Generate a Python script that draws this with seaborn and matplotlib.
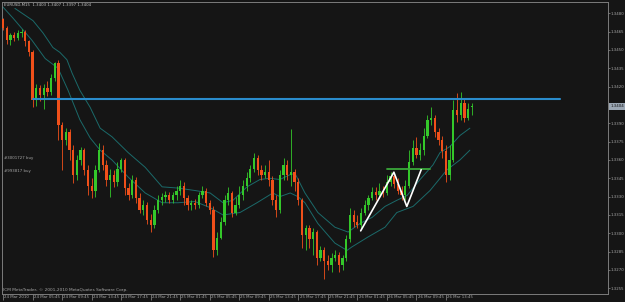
import numpy as np
import matplotlib
matplotlib.use("Agg")
import matplotlib.pyplot as plt
import matplotlib.transforms as mtransforms
import seaborn as sns

# ---------------- data (prices in 1e-4 units, EURUSD 30-min bars) ----------------
opens = [13475, 13468, 13458, 13462, 13460, 13464, 13465, 13457, 13448, 13409,
         13419, 13413, 13419, 13416, 13427, 13439, 13389, 13376, 13383, 13368,
         13348, 13360, 13368, 13352, 13339, 13335, 13352, 13368, 13356, 13344,
         13348, 13342, 13353, 13360, 13337, 13331, 13344, 13329, 13319, 13323,
         13311, 13307, 13319, 13327, 13330, 13331, 13327, 13331, 13335, 13339,
         13329, 13323, 13325, 13323, 13331, 13335, 13325, 13319, 13286, 13296,
         13309, 13327, 13333, 13317, 13323, 13331, 13339, 13345, 13353, 13362,
         13352, 13348, 13350, 13344, 13327, 13319, 13348, 13356, 13348, 13350,
         13342, 13327, 13299, 13304, 13295, 13301, 13280, 13286, 13277, 13274,
         13280, 13282, 13274, 13280, 13295, 13315, 13309, 13307, 13317, 13323,
         13329, 13334, 13331, 13335, 13333, 13342, 13347, 13340, 13335, 13331,
         13339, 13358, 13370, 13364, 13368, 13380, 13393, 13394, 13383, 13376,
         13367, 13348, 13360, 13401, 13397, 13407, 13394, 13403]
closes = [13468, 13458, 13462, 13460, 13464, 13465, 13457, 13448, 13409, 13419,
          13413, 13419, 13416, 13427, 13439, 13389, 13376, 13383, 13368, 13348,
          13360, 13368, 13352, 13339, 13335, 13352, 13368, 13356, 13344, 13348,
          13342, 13353, 13360, 13337, 13331, 13344, 13329, 13319, 13323, 13311,
          13307, 13319, 13327, 13330, 13331, 13327, 13331, 13335, 13339, 13329,
          13323, 13325, 13323, 13331, 13335, 13325, 13319, 13286, 13296, 13309,
          13327, 13333, 13317, 13323, 13331, 13339, 13345, 13353, 13362, 13352,
          13348, 13350, 13344, 13327, 13319, 13348, 13356, 13348, 13350, 13342,
          13327, 13299, 13304, 13295, 13301, 13280, 13286, 13277, 13274, 13280,
          13282, 13274, 13280, 13295, 13315, 13309, 13307, 13317, 13323, 13329,
          13334, 13331, 13335, 13333, 13342, 13347, 13340, 13335, 13331, 13339,
          13358, 13370, 13364, 13368, 13380, 13393, 13394, 13383, 13376, 13367,
          13348, 13360, 13401, 13397, 13407, 13394, 13402, 13404]
highs = [13476, 13470, 13464, 13465, 13466, 13467, 13466, 13458, 13450, 13422,
         13421, 13422, 13425, 13430, 13440, 13442, 13391, 13386, 13385, 13372,
         13364, 13371, 13370, 13356, 13345, 13356, 13374, 13372, 13360, 13353,
         13352, 13358, 13362, 13362, 13341, 13348, 13346, 13333, 13327, 13326,
         13316, 13323, 13331, 13333, 13335, 13334, 13334, 13339, 13344, 13342,
         13331, 13327, 13328, 13334, 13339, 13337, 13327, 13322, 13301, 13313,
         13331, 13338, 13335, 13330, 13339, 13344, 13350, 13356, 13366, 13364,
         13356, 13356, 13360, 13347, 13331, 13352, 13362, 13360, 13385, 13353,
         13345, 13329, 13307, 13307, 13304, 13303, 13290, 13289, 13282, 13284,
         13286, 13285, 13282, 13299, 13321, 13319, 13315, 13321, 13327, 13331,
         13338, 13338, 13341, 13339, 13348, 13350, 13349, 13345, 13339, 13344,
         13368, 13376, 13379, 13374, 13386, 13397, 13403, 13397, 13386, 13380,
         13372, 13372, 13409, 13415, 13416, 13411, 13407, 13407]
lows = [13466, 13455, 13454, 13457, 13458, 13461, 13453, 13445, 13403, 13404,
        13408, 13402, 13412, 13413, 13425, 13376, 13352, 13372, 13360, 13341,
        13344, 13356, 13348, 13331, 13329, 13330, 13350, 13352, 13339, 13330,
        13338, 13339, 13350, 13331, 13327, 13329, 13325, 13317, 13315, 13308,
        13301, 13304, 13317, 13323, 13326, 13325, 13325, 13327, 13331, 13323,
        13319, 13319, 13320, 13321, 13329, 13322, 13316, 13281, 13282, 13295,
        13307, 13323, 13313, 13315, 13321, 13327, 13335, 13342, 13350, 13348,
        13344, 13345, 13339, 13323, 13313, 13317, 13344, 13344, 13339, 13335,
        13323, 13288, 13286, 13288, 13282, 13274, 13277, 13263, 13270, 13268,
        13277, 13268, 13270, 13277, 13293, 13305, 13304, 13304, 13315, 13319,
        13327, 13327, 13330, 13330, 13331, 13339, 13337, 13332, 13327, 13327,
        13337, 13356, 13362, 13360, 13364, 13378, 13389, 13379, 13372, 13362,
        13342, 13344, 13358, 13391, 13393, 13391, 13393, 13397]

# moving-average lines (bar position, price 1e-4)
ma_outer_bar = [3.2, 8.1, 10.8, 13.5, 15.4, 17.3, 18.7, 20.8, 23.6, 26.3, 29.5,
                33.9, 38.5, 43.1, 47.4, 52.0, 56.1, 59.6, 62.3, 66.1, 69.6, 72.3,
                75.0, 77.8, 79.1, 81.8, 85.3, 89.9, 93.5, 96.7, 100.0, 103.5,
                106.7, 109.5, 113.0, 116.5, 118.4, 121.1, 123.8, 126.5]
ma_outer = [13484, 13474, 13464, 13452, 13448, 13442, 13431, 13417, 13403, 13386,
            13379, 13366, 13354, 13338, 13337, 13335, 13333, 13325, 13327, 13338,
            13344, 13345, 13344, 13348, 13349, 13333, 13317, 13305, 13301, 13308,
            13313, 13322, 13327, 13331, 13344, 13356, 13366, 13371, 13380, 13386]
ma_inner_bar = [-0.3, 2.7, 7.8, 11.4, 14.9, 17.6, 20.8, 23.6, 26.3, 29.5, 33.9,
                38.5, 43.1, 47.4, 52.0, 56.1, 59.6, 64.2, 68.8, 73.1, 75.0, 77.8,
                79.9, 81.8, 85.3, 89.9, 93.2, 94.6, 98.9, 103.5, 106.7, 111.1,
                115.7, 120.3, 123.8, 126.5]
ma_inner = [13486, 13476, 13458, 13443, 13435, 13417, 13393, 13378, 13368, 13360,
            13346, 13333, 13325, 13325, 13326, 13321, 13315, 13317, 13325, 13333,
            13330, 13333, 13330, 13325, 13308, 13292, 13286, 13289, 13297, 13305,
            13317, 13322, 13335, 13352, 13360, 13368]

# drawn objects
resistance_bar = [8.1, 150.9]
resistance_price = [1.3410, 1.3410]
neckline_bar = [104.1, 115.7]
neckline_price = [1.3353, 1.3353]
zigzag_bar = [96.9, 105.9, 109.4, 113.3]
zigzag_price = [1.3302, 1.3350, 1.3322, 1.3352]

y_ticks = [1.3480, 1.3465, 1.3450, 1.3435, 1.3420, 1.3390, 1.3375, 1.3360,
           1.3345, 1.3330, 1.3315, 1.3300, 1.3285, 1.3270, 1.3255]
x_tick_bars = list(range(0, 128, 8))
x_tick_labels = ["24 Mar 2010", "24 Mar 05:45", "24 Mar 09:45", "24 Mar 13:45",
                 "24 Mar 17:45", "24 Mar 21:45", "25 Mar 01:45", "25 Mar 05:45",
                 "25 Mar 09:45", "25 Mar 13:45", "25 Mar 17:45", "25 Mar 21:45",
                 "26 Mar 01:45", "26 Mar 05:45", "26 Mar 09:45", "26 Mar 13:45"]
last_price = 1.3404
title = "EURUSD,M15  1.3403 1.3407 1.3397 1.3404"
order_labels = ["#3001727 buy", "#993817 buy"]
copyright_text = "ICM MetaTrader, \u00a9 2001-2010 MetaQuotes Software Corp."

# ---------------- style ----------------
BG = "#151515"
BULL = "#34c82a"
BEAR = "#f0501a"
TEAL = "#1b6a6a"
FRAME = "#7c7c7c"
TXT = "#a8a8a8"
FS = 2.8

sns.set_theme(style="dark", rc={"axes.facecolor": BG, "figure.facecolor": BG,
                                 "savefig.facecolor": BG})
plt.rcParams["font.family"] = ["DejaVu Sans"]

W, H = 625, 302
fig = plt.figure(figsize=(W / 100, H / 100), dpi=100)
L_PX, R_PX, T_PX, B_PX = 2, 607.7, 2, 294
ax = fig.add_axes([L_PX / W, 1 - B_PX / H, (R_PX - L_PX) / W, (B_PX - T_PX) / H])
ax.set_facecolor(BG)

o = np.array(opens) / 1e4
c = np.array(closes) / 1e4
h = np.array(highs) / 1e4
l = np.array(lows) / 1e4
bars = np.arange(len(c))
up = c >= o
cols = np.where(up, BULL, BEAR)

ax.vlines(bars, l, h, colors=cols, linewidth=0.6, zorder=3)
ax.bar(bars, np.maximum(np.abs(c - o), 0.00009), bottom=np.minimum(o, c),
       width=0.62, color=cols, linewidth=0, zorder=4)

sns.lineplot(x=ma_outer_bar, y=np.array(ma_outer) / 1e4, ax=ax, color=TEAL,
             linewidth=0.7, sort=False, estimator=None, zorder=2)
sns.lineplot(x=ma_inner_bar, y=np.array(ma_inner) / 1e4, ax=ax, color=TEAL,
             linewidth=0.7, sort=False, estimator=None, zorder=2)
sns.lineplot(x=resistance_bar, y=resistance_price, ax=ax, color="#2a8ccc",
             linewidth=1.5, sort=False, estimator=None, zorder=5)
sns.lineplot(x=neckline_bar, y=neckline_price, ax=ax, color="#3aa83a",
             linewidth=1.3, sort=False, estimator=None, zorder=5)
sns.lineplot(x=zigzag_bar, y=zigzag_price, ax=ax, color="white",
             linewidth=1.2, sort=False, estimator=None, zorder=6)

# axes limits (bar i sits at pixel 2 + (i + 0.3) * 3.69)
ax.set_xlim(-0.3, -0.3 + (R_PX - L_PX) / 3.69)
ax.set_ylim(1.325033, 1.348925)

for s in ax.spines.values():
    s.set_visible(True)
    s.set_color(FRAME)
    s.set_linewidth(0.7)

ax.yaxis.tick_right()
ax.set_yticks(y_ticks)
ax.set_yticklabels([f"{v:.4f}" for v in y_ticks])
ax.tick_params(axis="y", right=True, left=False, length=1.5, width=0.6,
               color=FRAME, pad=0.8, labelsize=FS, labelcolor=TXT)
ax.set_xticks(x_tick_bars)
ax.set_xticklabels(x_tick_labels)
ax.tick_params(axis="x", bottom=True, length=4, width=0.6, color=FRAME,
               pad=-3.2, labelsize=FS, labelcolor=TXT)
offset = mtransforms.ScaledTranslation(1.2 / 100, 0, fig.dpi_scale_trans)
for lbl in ax.get_xticklabels():
    lbl.set_ha("left")
    lbl.set_transform(lbl.get_transform() + offset)
ax.set_xlabel("")
ax.set_ylabel("")
ax.grid(False)

# current price tag on the price scale
blend = mtransforms.blended_transform_factory(ax.transAxes, ax.transData)
ax.text(1.0045, last_price, f"{last_price:.4f}", transform=blend, ha="left",
        va="center", fontsize=FS, color="#111111", clip_on=False,
        bbox=dict(boxstyle="square,pad=0.35", fc="#9aa6b3", ec="none"))

fig.text(4 / W, 1 - 5.5 / H, title, fontsize=FS, color="#c4c4c4", va="center", ha="left")
fig.text(3.5 / W, 1 - 158.5 / H, order_labels[0], fontsize=FS, color=TXT, va="center")
fig.text(3.5 / W, 1 - 171 / H, order_labels[1], fontsize=FS, color=TXT, va="center")
fig.text(3 / W, 1 - 290 / H, copyright_text, fontsize=3.1, color=TXT, va="center")

fig.savefig("out.png", dpi=100, facecolor=BG)
